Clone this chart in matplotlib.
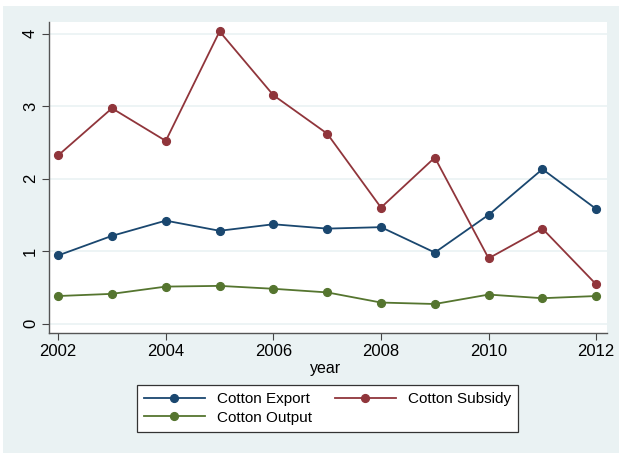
import matplotlib
matplotlib.use("Agg")
import matplotlib.pyplot as plt
from matplotlib.patches import Rectangle

plt.rcParams['font.family'] = ['Liberation Sans', 'DejaVu Sans']

years = [2002, 2003, 2004, 2005, 2006, 2007, 2008, 2009, 2010, 2011, 2012]
cotton_export = [0.94, 1.21, 1.42, 1.28, 1.37, 1.31, 1.33, 0.98, 1.50, 2.13, 1.58]
cotton_subsidy = [2.32, 2.97, 2.52, 4.03, 3.15, 2.62, 1.60, 2.29, 0.90, 1.31, 0.54]
cotton_output = [0.38, 0.41, 0.51, 0.52, 0.48, 0.43, 0.29, 0.27, 0.40, 0.35, 0.38]
xticks = [2002, 2004, 2006, 2008, 2010, 2012]
yticks = [0, 1, 2, 3, 4]

W, H = 619, 453
fig = plt.figure(figsize=(W / 100, H / 100), dpi=100, facecolor='white')
fig.patches.append(Rectangle((3 / W, 0), 1 - 3 / W, 1 - 6 / H, transform=fig.transFigure,
                             facecolor='#eaf2f3', edgecolor='none', zorder=-10))

ax = fig.add_axes([49 / W, 1 - 333 / H, (607 - 49) / W, (333 - 22) / H])
ax.set_facecolor('white')

series = [
    (cotton_export, '#1a476f', 'Cotton Export'),
    (cotton_subsidy, '#90353b', 'Cotton Subsidy'),
    (cotton_output, '#55752f', 'Cotton Output'),
]
for vals, col, lab in series:
    ax.plot(years, vals, color=col, lw=1.3, marker='o', ms=5.6, label=lab, zorder=3)

ax.set_xlim(2001.83, 2012.2)
ax.set_ylim(-0.13, 4.16)
ax.set_xticks(xticks)
ax.set_yticks(yticks)
ax.set_yticklabels([str(v) for v in yticks], rotation=90, va='center')
ax.tick_params(axis='both', labelsize=12, length=5, width=0.8, color='#444444', direction='out')
ax.tick_params(axis='x', pad=3)
ax.tick_params(axis='y', pad=3)
for y in yticks:
    ax.axhline(y, color='#eaf2f3', lw=1.2, zorder=1)

for s in ['top', 'right']:
    ax.spines[s].set_visible(False)
for s in ['left', 'bottom']:
    ax.spines[s].set_color('#555555')
    ax.spines[s].set_linewidth(1.0)

ax.set_xlabel('year', fontsize=11.5, labelpad=0)
ax.xaxis.set_label_coords(0.495, -0.09)

handles, labels = ax.get_legend_handles_labels()
order = [0, 2, 1]
leg = fig.legend([handles[i] for i in order], [labels[i] for i in order],
                 ncol=2, loc='center', bbox_to_anchor=((137 + 518) / 2 / W, 1 - 408.5 / H),
                 fontsize=11, frameon=True, fancybox=False, edgecolor='#333333',
                 facecolor='white', framealpha=1,
                 handlelength=4.0, columnspacing=1.5, handletextpad=0.8, borderpad=0.45,
                 labelspacing=0.3)
leg.get_frame().set_linewidth(0.9)

fig.savefig('out.png', dpi=100, facecolor=fig.get_facecolor())
